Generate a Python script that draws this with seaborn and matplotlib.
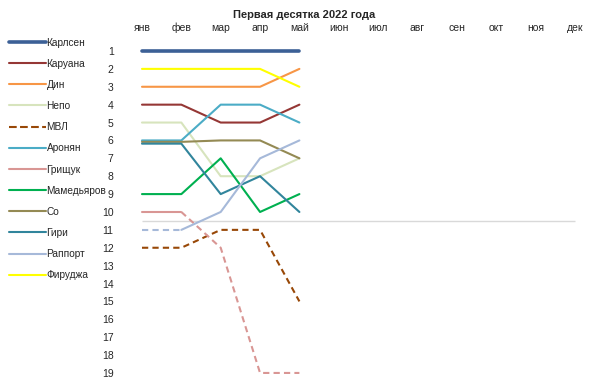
import matplotlib
matplotlib.use('Agg')
import matplotlib.pyplot as plt
from matplotlib.lines import Line2D
import numpy as np
import pandas as pd
import seaborn as sns

sns.set_style('white')
plt.rcParams['font.family'] = ['Liberation Sans', 'DejaVu Sans']

# Datos: posición en el ranking por mes (ene-may 2022)
months = ['янв', 'фев', 'мар', 'апр', 'май', 'июн', 'июл', 'авг', 'сен', 'окт', 'ноя', 'дек']
players = ['Карлсен', 'Каруана', 'Дин', 'Непо', 'МВЛ', 'Аронян',
           'Грищук', 'Мамедьяров', 'Со', 'Гири', 'Раппорт', 'Фируджа']

carlsen = [1, 1, 1, 1, 1]
caruana = [4, 4, 5, 5, 4]
ding = [3, 3, 3, 3, 2]
nepo = [5, 5, 8, 8, 7]
mvl = [12, 12, 11, 11, 15]
aronian = [6, 6, 4, 4, 5]
grischuk = [10, 10, 12, 19, 19]
mamedyarov = [9, 9, 7, 10, 9]
so = [6.08, 6.08, 6, 6, 7]
giri = [6.18, 6.18, 9, 8, 10]
rapport = [11, 11, 10, 7, 6]
firouzja = [2, 2, 2, 2, 3]

ranks = [carlsen, caruana, ding, nepo, mvl, aronian,
         grischuk, mamedyarov, so, giri, rapport, firouzja]

colors = ['#3C6096', '#953735', '#F79646', '#D7E4BD', '#984807', '#4BACC6',
          '#D99694', '#00B050', '#948A54', '#31859C', '#A6B9D9', '#FFFF00']
widths = [2.6, 1.5, 1.5, 1.5, 1.5, 1.5, 1.5, 1.5, 1.5, 1.5, 1.5, 1.5]
# segmentos punteados: (desde, hasta) índices de mes
dashed = {'МВЛ': (0, 4), 'Грищук': (1, 4), 'Раппорт': (0, 1)}

fig = plt.figure(figsize=(5.91, 3.81), dpi=100)
ax = fig.add_axes([122 / 591, 0, 469 / 591, 341 / 381])

x_all = np.arange(5)
for name, r, c, w in zip(players, ranks, colors, widths):
    r = np.array(r, dtype=float)
    if name in dashed:
        a, b = dashed[name]
        # parte sólida
        if a > 0:
            sns.lineplot(x=x_all[:a + 1], y=r[:a + 1], ax=ax, color=c, lw=w)
        if b < 4:
            sns.lineplot(x=x_all[b:], y=r[b:], ax=ax, color=c, lw=w)
        sns.lineplot(x=x_all[a:b + 1], y=r[a:b + 1], ax=ax, color=c, lw=w,
                     linestyle=(0, (3, 2)))
    else:
        sns.lineplot(x=x_all, y=r, ax=ax, color=c, lw=w)

# línea divisoria del top 10
ax.hlines(10.5, 0, 11, color='#D9D9D9', lw=1, zorder=0)

ax.set_xlim(-0.508, 11.41)
ax.set_ylim(19.45, 0.385)
ax.xaxis.tick_top()
ax.set_xticks(range(12))
ax.set_xticklabels(months, fontsize=7.5)
ax.set_yticks(range(1, 20))
ax.set_yticklabels([str(i) for i in range(1, 20)], fontsize=7.5)
ax.tick_params(axis='x', length=0, pad=5)
ax.tick_params(axis='y', length=0, pad=6)
for s in ax.spines.values():
    s.set_visible(False)
ax.set_xlabel('')
ax.set_ylabel('')

handles = []
for name, c, w in zip(players, colors, widths):
    ls = '--' if name == 'МВЛ' else '-'
    handles.append(Line2D([0], [0], color=c, lw=w, linestyle=ls))
fig.legend(handles, players, loc='upper left', bbox_to_anchor=(0.0085, 0.912),
           frameon=False, fontsize=7.3, handlelength=3.65, handletextpad=0.05,
           labelspacing=1.1, borderaxespad=0)

fig.text(0.515, 0.975, 'Первая десятка 2022 года', ha='center', va='top',
         fontsize=8, fontweight='bold')

fig.savefig('out.png', dpi=100)
